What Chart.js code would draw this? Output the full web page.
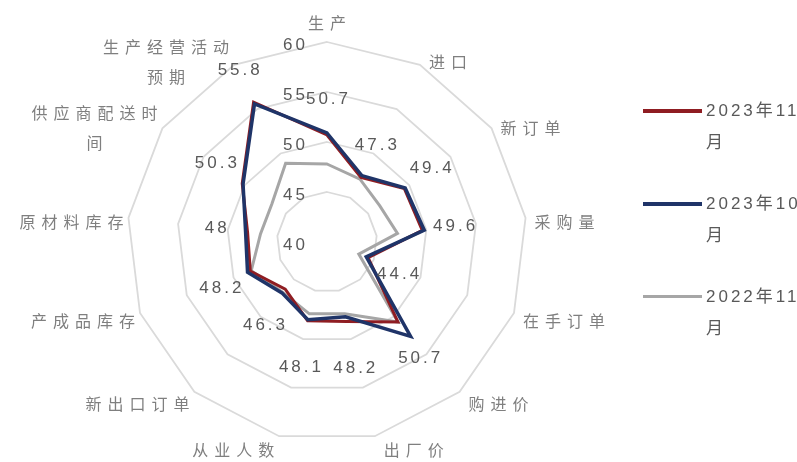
<!DOCTYPE html>
<html>
<head>
<meta charset="utf-8">
<script src="https://cdn.jsdelivr.net/npm/chart.js@4.4.1/dist/chart.umd.min.js"></script>
<style>
  html, body { margin: 0; padding: 0; background: #fff; }
  #wrap { position: relative; width: 797px; height: 462px; overflow: hidden; }
  #chart { position: absolute; left: 0; top: 0; }
  #legend { position: absolute; left: 643px; top: 95px; }
  .lg-item { position: relative; height: 93px; }
  .lg-line { position: absolute; left: 0; top: 14px; width: 59px; height: 4px; }
  .lg-text {
    position: absolute; left: 63px; top: 0; width: 96px;
    font-family: "Liberation Sans", "Noto Sans CJK SC", sans-serif; font-size: 17px;
    letter-spacing: 3px; line-height: 32px; color: #595959; word-break: break-all;
  }
</style>
</head>
<body>
<div id="wrap">
  <canvas id="chart" width="797" height="462"></canvas>
  <div id="legend"></div>
</div>
<script>
  // PMI 分项指数
  const CATEGORIES = ['生产', '进口', '新订单', '采购量', '在手订单', '购进价', '出厂价',
    '从业人数', '新出口订单', '产成品库存', '原材料库存', '供应商配送时间', '生产经营活动预期'];
  const SERIES_LABELS = ['2023年11月', '2023年10月', '2022年11月'];
  const NOV_2023 = [50.7, 47.3, 49.4, 49.6, 44.4, 50.7, 48.2, 48.1, 46.3, 48.2, 48.0, 50.3, 55.8];
  const OCT_2023 = [50.9, 47.5, 49.5, 49.8, 44.2, 52.6, 47.7, 48.0, 46.8, 48.5, 48.2, 50.2, 55.6];
  const NOV_2022 = [47.8, 47.1, 46.4, 47.1, 43.4, 50.7, 47.4, 47.4, 46.7, 48.1, 46.7, 46.7, 48.9];
  const R_MIN = 40, R_MAX = 60, R_STEP = 5;

  const COL = { red: '#8f1d22', blue: '#1f3468', gray: '#a6a6a6', grid: '#dadada', text: '#595959', cat: '#7f7f7f' };
  const NUM_FONT = '17px "Liberation Sans", "Noto Sans CJK SC", sans-serif';
  const CAT_FONT = '16px "Noto Sans CJK SC", sans-serif';

  // 长标签折行（每行最多 6 个字）
  function wrapLabel(s) {
    return s.length > 6 ? [s.slice(0, 6), s.slice(6)] : [s];
  }

  function spacedWidth(ctx, text, sp) {
    let w = 0;
    for (const ch of text) w += ctx.measureText(ch).width + sp;
    return w - sp;
  }
  function drawSpaced(ctx, text, x, y, align, sp) {
    const w = spacedWidth(ctx, text, sp);
    let cx = align === 'right' ? x - w : align === 'center' ? x - w / 2 : x;
    ctx.textAlign = 'left';
    for (const ch of text) {
      ctx.fillText(ch, cx, y);
      cx += ctx.measureText(ch).width + sp;
    }
  }

  /* ---- 分类标签（Excel 式摆放） ---- */
  const categoryLabels = {
    id: 'categoryLabels',
    afterDraw(chart) {
      const r = chart.scales.r;
      const ctx = chart.ctx;
      ctx.save();
      ctx.font = CAT_FONT;
      ctx.fillStyle = COL.cat;
      ctx.textBaseline = 'middle';
      CATEGORIES.forEach(function (name, i) {
        const lines = wrapLabel(name);
        const v = r.getPointPosition(i, r.drawingArea);
        const a = r.getIndexAngle(i);
        const deg = a * 180 / Math.PI;
        const W = Math.max.apply(null, lines.map(function (l) { return spacedWidth(ctx, l, 6); }));
        let cx, cy;
        if (deg < 1 || deg > 359) { cx = v.x; cy = v.y - 19; }
        else if (deg < 180) { cx = v.x + 9 + W / 2; cy = v.y + 5 - 9 * Math.cos(a); }
        else { cx = v.x - 5 - W / 2; cy = v.y + 5 - 9 * Math.cos(a); }
        lines.forEach(function (l, k) {
          drawSpaced(ctx, l, cx, cy + (k - (lines.length - 1) / 2) * 30, 'center', 6);
        });
      });
      ctx.restore();
    }
  };

  /* ---- 刻度与数据标签 ---- */
  const numberLabels = {
    id: 'numberLabels',
    afterDatasetsDraw(chart) {
      const r = chart.scales.r;
      const ctx = chart.ctx;
      ctx.save();
      ctx.font = NUM_FONT;
      ctx.fillStyle = COL.text;
      ctx.textBaseline = 'middle';
      r.ticks.forEach(function (t) {
        const y = r.yCenter - r.getDistanceFromCenterForValue(t.value);
        drawSpaced(ctx, String(t.value), r.xCenter - 22, y + 3, 'right', 3);
      });
      // 标签放在点外侧，下半部分稍远
      NOV_2023.forEach(function (v, i) {
        const p = r.getPointPositionForValue(i, v);
        const a = r.getIndexAngle(i);
        const c = Math.cos(a);
        const x = p.x + 32 * Math.sin(a);
        const y = p.y - (c > 0 ? 36 : 48) * c;
        drawSpaced(ctx, String(v), x, y, 'center', 3);
      });
      ctx.restore();
    }
  };

  function ds(label, data, color, width, order) {
    return {
      label: label, data: data, borderColor: color, backgroundColor: color,
      borderWidth: width, pointRadius: 0, pointHoverRadius: 0, fill: false,
      tension: 0, order: order,
    };
  }

  new Chart(document.getElementById('chart'), {
    type: 'radar',
    data: {
      labels: CATEGORIES,
      datasets: [
        ds(SERIES_LABELS[0], NOV_2023, COL.red, 3, 2),
        ds(SERIES_LABELS[1], OCT_2023, COL.blue, 3.5, 1),
        ds(SERIES_LABELS[2], NOV_2022, COL.gray, 3, 3),
      ],
    },
    options: {
      responsive: false, animation: false, devicePixelRatio: 1,
      layout: { padding: { left: 127, right: 270, top: 42, bottom: 20 } },
      plugins: { legend: { display: false }, tooltip: { enabled: false } },
      scales: {
        r: {
          min: R_MIN, max: R_MAX,
          ticks: { stepSize: R_STEP, display: false },
          grid: { color: COL.grid, lineWidth: 1.8 },
          angleLines: { display: false },
          pointLabels: { display: false },
        },
      },
    },
    plugins: [categoryLabels, numberLabels],
  });

  // 图例（手动）
  const legendColors = [COL.red, COL.blue, COL.gray];
  const legendWidths = [4, 4, 3];
  document.getElementById('legend').innerHTML = SERIES_LABELS.map(function (s, i) {
    return '<div class="lg-item"><span class="lg-line" style="background:' + legendColors[i]
      + ';height:' + legendWidths[i] + 'px"></span><div class="lg-text">' + s + '</div></div>';
  }).join('');
</script>
</body>
</html>
